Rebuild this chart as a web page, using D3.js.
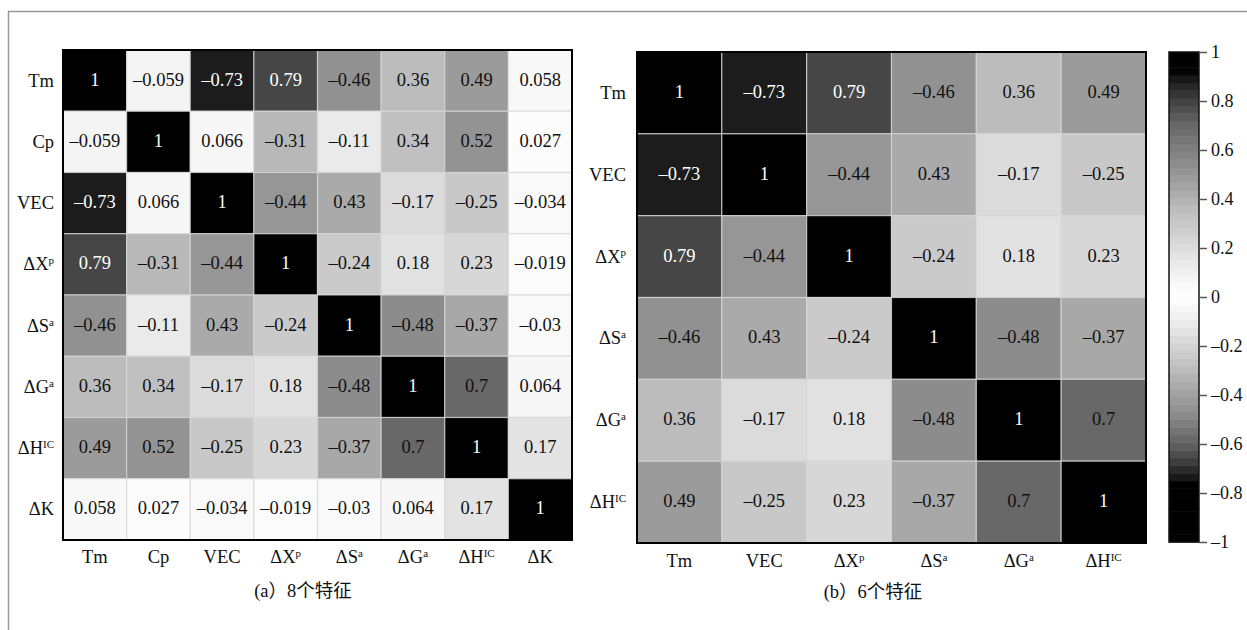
<!DOCTYPE html>
<html>
<head>
<meta charset="utf-8">
<script src="https://cdn.jsdelivr.net/npm/d3@7"></script>
<style>
  html, body { margin: 0; padding: 0; background: #fff; }
  svg { display: block; }
  text { font-family: "Liberation Serif", "Times New Roman", serif; fill: #111; }
  .cap { font-family: "Liberation Serif", "Noto Sans CJK SC", serif; }
</style>
</head>
<body>
<svg id="chart" width="1247" height="630"></svg>
<script>
// Feature names; "^" marks the start of a superscript
const features8 = ["Tm", "Cp", "VEC", "ΔX^p", "ΔS^a", "ΔG^a", "ΔH^IC", "ΔK"];
const features6 = ["Tm", "VEC", "ΔX^p", "ΔS^a", "ΔG^a", "ΔH^IC"];

// Pearson correlation matrix of the 8 features (row-major)
const rowTm   = [1, -0.059, -0.73, 0.79, -0.46, 0.36, 0.49, 0.058];
const rowCp   = [-0.059, 1, 0.066, -0.31, -0.11, 0.34, 0.52, 0.027];
const rowVEC  = [-0.73, 0.066, 1, -0.44, 0.43, -0.17, -0.25, -0.034];
const rowXp   = [0.79, -0.31, -0.44, 1, -0.24, 0.18, 0.23, -0.019];
const rowSa   = [-0.46, -0.11, 0.43, -0.24, 1, -0.48, -0.37, -0.03];
const rowGa   = [0.36, 0.34, -0.17, 0.18, -0.48, 1, 0.7, 0.064];
const rowHIC  = [0.49, 0.52, -0.25, 0.23, -0.37, 0.7, 1, 0.17];
const rowK    = [0.058, 0.027, -0.034, -0.019, -0.03, 0.064, 0.17, 1];
const matrix8 = [rowTm, rowCp, rowVEC, rowXp, rowSa, rowGa, rowHIC, rowK];

// Correlation matrix of the reduced 6-feature set
const matrix6 = [
  [1, -0.73, 0.79, -0.46, 0.36, 0.49],
  [-0.73, 1, -0.44, 0.43, -0.17, -0.25],
  [0.79, -0.44, 1, -0.24, 0.18, 0.23],
  [-0.46, 0.43, -0.24, 1, -0.48, -0.37],
  [0.36, -0.17, 0.18, -0.48, 1, 0.7],
  [0.49, -0.25, 0.23, -0.37, 0.7, 1]
];

// Colour bar ticks
const barTicks = [1, 0.8, 0.6, 0.4, 0.2, 0, -0.2, -0.4, -0.6, -0.8, -1];

const captionA = "(a）8个特征";
const captionB = "(b）6个特征";

// Grey-level colour map (value -> grey 0..255)
const grey = d3.scaleLinear()
  .domain([-1, -0.76, -0.73, -0.62, -0.48, -0.37, -0.25, -0.11, 0, 0.06, 0.18, 0.36, 0.5, 0.7, 0.79, 0.88, 0.92, 1])
  .range([0, 0, 28, 90, 140, 168, 200, 234, 255, 248, 225, 188, 152, 104, 70, 30, 4, 0])
  .clamp(true);
const color = v => { const g = Math.round(grey(v)); return `rgb(${g},${g},${g})`; };

const fmt = v => String(v).replace("-", "–");

const svg = d3.select("#chart");

// Outer frame
svg.append("rect")
  .attr("x", 8.5).attr("y", 11.5).attr("width", 1400).attr("height", 800)
  .attr("fill", "none").attr("stroke", "#9a9a9a").attr("stroke-width", 1.5);

function setLabel(sel) {
  sel.each(function(d) {
    const t = d3.select(this);
    const [base, sup] = d.split("^");
    t.text(null);
    t.append("tspan").text(base);
    if (sup) {
      t.append("tspan").text(sup)
        .attr("font-size", "11px")
        .attr("dy", "-0.55em");
    }
  });
}

function heatmap(opt) {
  const { names, matrix, x0, y0, w, h, padY, padX } = opt;
  const g = svg.append("g");
  const xs = d3.scaleBand().domain(names).range([x0, x0 + w]);
  const ys = d3.scaleBand().domain(names).range([y0, y0 + h]);

  const cells = [];
  matrix.forEach((row, i) => row.forEach((v, j) => cells.push({ r: names[i], c: names[j], v })));

  g.selectAll("rect.cell").data(cells).join("rect")
    .attr("class", "cell")
    .attr("x", d => xs(d.c)).attr("y", d => ys(d.r))
    .attr("width", xs.bandwidth()).attr("height", ys.bandwidth())
    .attr("fill", d => color(d.v))
    .attr("stroke", "rgba(215,215,215,0.75)").attr("stroke-width", 1.2);

  g.selectAll("text.val").data(cells).join("text")
    .attr("class", "val")
    .attr("x", d => xs(d.c) + xs.bandwidth() / 2)
    .attr("y", d => ys(d.r) + ys.bandwidth() / 2 + 5)
    .attr("text-anchor", "middle")
    .attr("font-size", "18.5px")
    .style("fill", d => grey(d.v) < 85 ? "#fff" : "#111")
    .text(d => fmt(d.v));

  g.append("rect")
    .attr("x", x0).attr("y", y0).attr("width", w).attr("height", h)
    .attr("fill", "none").attr("stroke", "#000").attr("stroke-width", 2);

  const ax = g.append("g").attr("transform", `translate(0,${y0 + h})`)
    .call(d3.axisBottom(xs).tickSize(0).tickPadding(padX));
  const ay = g.append("g").attr("transform", `translate(${x0},0)`)
    .call(d3.axisLeft(ys).tickSize(0).tickPadding(padY));
  [ax, ay].forEach(a => {
    a.select(".domain").remove();
    a.selectAll("text").attr("font-size", "18.5px")
      .attr("font-family", "Liberation Serif, serif").style("fill", "#111")
      .call(setLabel);
  });
  return { xs, ys };
}

heatmap({ names: features8, matrix: matrix8, x0: 63, y0: 50, w: 509, h: 490, padY: 9, padX: 10 });
heatmap({ names: features6, matrix: matrix6, x0: 637, y0: 52, w: 509, h: 491, padY: 11, padX: 11 });

// Colour bar
const barX = 1169, barW = 30;
const bs = d3.scaleLinear().domain([-1, 1]).range([542, 52]);
const nBands = 64;
const bands = d3.range(nBands).map(i => -1 + (i + 0.5) * 2 / nBands);
svg.append("g").selectAll("rect").data(bands).join("rect")
  .attr("x", barX).attr("width", barW)
  .attr("y", d => bs(d + 1 / nBands))
  .attr("height", bs(-1) - bs(-1 + 2 / nBands) + 0.5)
  .attr("fill", d => color(d));
svg.append("rect")
  .attr("x", barX).attr("y", bs(1)).attr("width", barW).attr("height", bs(-1) - bs(1))
  .attr("fill", "none").attr("stroke", "#111").attr("stroke-width", 1.5);

const bAxis = svg.append("g").attr("transform", `translate(${barX + barW},0)`)
  .call(d3.axisRight(bs).tickValues(barTicks).tickSize(8).tickPadding(4).tickFormat(fmt));
bAxis.select(".domain").remove();
bAxis.selectAll("line").attr("stroke", "#555").attr("stroke-width", 1.5);
bAxis.selectAll("text").attr("font-size", "18px")
  .attr("font-family", "Liberation Serif, serif").style("fill", "#111");

// Sub-figure captions
svg.append("text").attr("class", "cap")
  .attr("x", 303).attr("y", 597).attr("text-anchor", "middle")
  .attr("font-size", "18.5px").text(captionA);
svg.append("text").attr("class", "cap")
  .attr("x", 873).attr("y", 598).attr("text-anchor", "middle")
  .attr("font-size", "18.5px").text(captionB);
</script>
</body>
</html>
